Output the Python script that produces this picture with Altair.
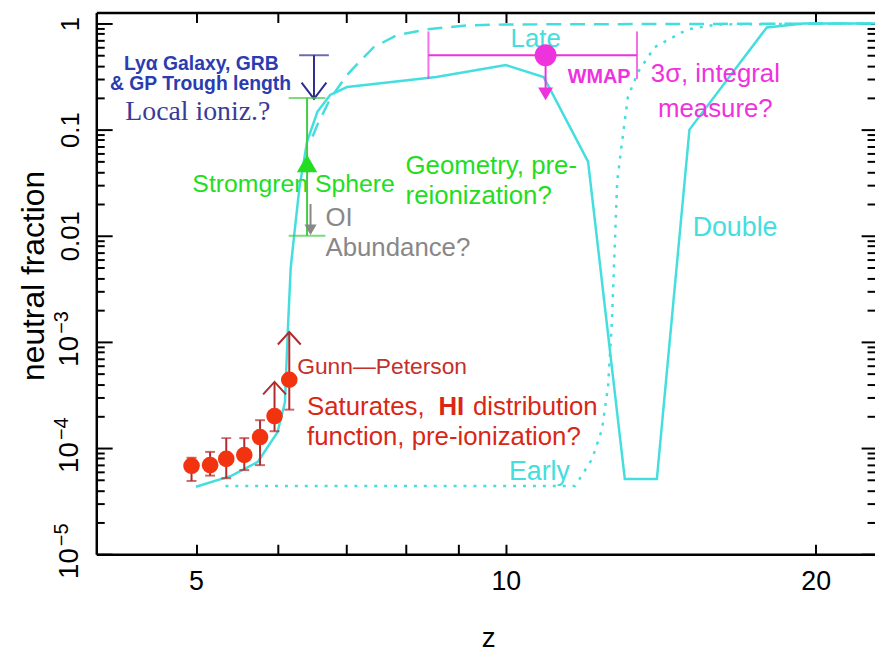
import altair as alt
import pandas as pd

SANS = "Liberation Sans"
SERIF = "Liberation Serif"

CYAN = "#44dede"
RED = "#f2330f"
DARKRED = "#b32a2a"
RED_TEXT = "#d92716"
GP_TEXT = "#c4302a"
NAVY_LINE = "#2c2c8c"
NAVY_TEXT = "#2a3cb0"
SERIF_NAVY = "#3a3a98"
GREEN = "#22dd22"
GREEN_LINE = "#44cc44"
GREY = "#888888"
MAGENTA = "#ee33dd"

# ---------------- data ----------------
# "Double" reionization history (solid)
double_z = [5.00, 5.41, 5.74, 6.00, 6.10, 6.14, 6.18, 6.23, 6.30, 6.41, 6.56, 6.75, 7.01,
            8.56, 10.0, 10.88, 11.05, 12.02, 13.05, 14.02, 15.08, 17.93, 19.47, 22.84]
double_f = [4.32e-5, 5.47e-5, 7.4e-5, 1.41e-4, 2.69e-4, 1.29e-3, 5.0e-3, 1.04e-2, 2.8e-2,
            7.7e-2, 0.147, 0.212, 0.252, 0.313, 0.405, 0.313, 0.237, 0.050, 5.1e-5, 5.1e-5,
            0.10, 0.918, 1.0, 1.0]
# "Late" (dashed)
late_z = [6.49, 6.56, 6.75, 7.01, 7.17, 7.44, 7.83, 8.37, 9.15, 10.0, 22.84]
late_f = [0.086, 0.111, 0.195, 0.327, 0.414, 0.597, 0.773, 0.879, 0.958, 0.979, 1.0]
# "Early" (dotted)
early_z = [5.34, 11.68, 12.13, 12.40, 12.57, 12.68, 12.83, 12.97, 13.14, 13.44, 13.95,
           15.01, 16.05, 22.84]
early_f = [4.4e-5, 4.4e-5, 7.9e-5, 1.5e-4, 3.8e-4, 1.6e-3, 0.0327, 0.077, 0.203, 0.348,
           0.597, 0.879, 0.979, 1.0]

# Gunn-Peterson measurements
gp_z = [4.95, 5.16, 5.35, 5.57, 5.77, 5.96, 6.16]
gp_f = [6.8e-5, 6.9e-5, 7.9e-5, 8.6e-5, 1.27e-4, 2.0e-4, 4.4e-4]
gp_lo = [4.9e-5, 5.5e-5, 5.2e-5, 6.2e-5, 6.9e-5, 1.44e-4, 2.3e-4]
gp_hi = [8.1e-5, 9.2e-5, 1.24e-4, 1.24e-4, 1.83e-4, 4.2e-4, 1.24e-3]
gp_limit = [False, False, False, False, False, True, True]

# Lya galaxy / GRB / GP trough upper limit
lya_z = [6.51]
lya_top = [0.502]
lya_tip = [0.195]
# Stromgren sphere range
str_z = [6.41]
str_top = [0.199]
str_bot = [0.0100]
str_mid = [0.048]
# OI abundance upper limit
oi_z = [6.46]
oi_top = [0.0199]
oi_tip = [0.0114]
# WMAP
wmap_z = [10.93]
wmap_zlo = [8.41]
wmap_zhi = [13.41]
wmap_f = [0.502]
wmap_tip = [0.217]

# axis ticks / labels
xtick_values = [5, 6, 7, 8, 9, 10, 20]
xlabel_values = [5, 10, 20]
ytick_values = [1e-5, 1e-4, 1e-3, 0.01, 0.1, 1]
ydec_values = [0.01, 0.1, 1]
ydec_labels = ["0.01", "0.1", "1"]
ypow_values = [1e-5, 1e-4, 1e-3]
ypow_base = "10"
ypow_exps = ["−5", "−4", "−3"]
yminor_values = [k * 10.0 ** e for e in range(-5, 0) for k in range(2, 10)]

# annotation text: (text, z, f, color, size, align, weight, font)
annotations = [
    ("Lyα Galaxy, GRB", 5.06, 0.414, NAVY_TEXT, 19.5, "center", "bold", SANS),
    ("& GP Trough length", 5.05, 0.269, NAVY_TEXT, 19.5, "center", "bold", SANS),
    ("Local ioniz.?", 5.02, 0.147, SERIF_NAVY, 28, "center", "normal", SERIF),
    ("Stromgren Sphere", 6.22, 0.0306, GREEN, 25, "center", "normal", SANS),
    ("Geometry, pre-", 7.99, 0.0451, GREEN, 26, "left", "normal", SANS),
    ("reionization?", 7.99, 0.0237, GREEN, 26, "left", "normal", SANS),
    ("OI", 6.68, 0.0147, GREY, 26, "left", "normal", SANS),
    ("Abundance?", 6.68, 0.00772, GREY, 26, "left", "normal", SANS),
    ("Gunn—Peterson", 6.27, 5.84e-4, GP_TEXT, 23, "left", "normal", SANS),
    ("Saturates,", 6.41, 2.42e-4, RED_TEXT, 26, "left", "normal", SANS),
    ("HI", 8.60, 2.42e-4, RED_TEXT, 26, "left", "bold", SANS),
    ("distribution", 9.29, 2.42e-4, RED_TEXT, 26, "left", "normal", SANS),
    ("function, pre-ionization?", 6.41, 1.27e-4, RED_TEXT, 26, "left", "normal", SANS),
    ("Late", 10.69, 0.709, CYAN, 26, "center", "normal", SANS),
    ("Early", 10.78, 5.97e-5, CYAN, 27, "center", "normal", SANS),
    ("Double", 16.70, 0.01188, CYAN, 27, "center", "normal", SANS),
    ("WMAP", 12.32, 0.313, MAGENTA, 20, "center", "bold", SANS),
    ("3σ, integral", 15.98, 0.334, MAGENTA, 26, "center", "normal", SANS),
    ("measure?", 15.98, 0.157, MAGENTA, 26, "center", "normal", SANS),
]

# ---------------- scales & axes ----------------
xs = alt.Scale(type="log", domain=[4.0, 22.84], nice=False)
ys = alt.Scale(type="log", domain=[1e-5, 1.267], nice=False)


def X(field="z", axis=None):
    return alt.X(field, type="quantitative", scale=xs, axis=axis)


def Y(field="f", axis=None):
    return alt.Y(field, type="quantitative", scale=ys, axis=axis)


def tick_axis(orient, values, size):
    return alt.Axis(orient=orient, values=values, ticks=True, tickSize=size, offset=-size,
                    tickWidth=2, tickColor="black", labels=False, domain=False,
                    grid=False, title="")


def js_list(items):
    return "[" + ",".join("'" + s + "'" for s in items) + "]"


x_main = alt.Axis(orient="bottom", values=xlabel_values, format="d", ticks=False,
                  domain=True, domainColor="black", domainWidth=2.5, grid=False,
                  labelFont=SANS, labelFontSize=27, labelColor="black", labelPadding=15,
                  labelBaseline="top", title="z", titleFont=SANS, titleFontSize=28,
                  titleFontWeight="normal", titleColor="black", titleX=395, titleY=93,
                  titleBaseline="alphabetic", titleAlign="center")
y_main = alt.Axis(orient="left", values=ydec_values,
                  labelExpr=js_list(ydec_labels) + "[round(log(datum.value)/LN10) + 2]",
                  ticks=False, domain=True, domainColor="black", domainWidth=2.5,
                  grid=False, labelAngle=270, labelAlign="center", labelBaseline="bottom",
                  labelPadding=13, labelFont=SANS, labelFontSize=26, labelColor="black",
                  title="neutral fraction", titleFont=SANS, titleFontSize=32,
                  titleFontWeight="normal", titleColor="black", titleAngle=270,
                  titleX=-63, titleY=265, titleBaseline="middle", titleAlign="center")
y_base = alt.Axis(orient="left", values=ypow_values, ticks=False, domain=False, grid=False,
                  labelExpr="'" + ypow_base + "'", labelAngle=270, labelAlign="center",
                  labelBaseline="bottom", labelPadding=13, labelOffset=9, labelFont=SANS,
                  labelFontSize=28, labelColor="black", title="")
y_exp = alt.Axis(orient="left", values=ypow_values, ticks=False, domain=False, grid=False,
                 labelExpr=js_list(ypow_exps) + "[round(log(datum.value)/LN10) + 5]",
                 labelAngle=270, labelAlign="center", labelBaseline="bottom",
                 labelPadding=25, labelOffset=-20, labelFont=SANS, labelFontSize=20,
                 labelColor="black", title="")
top_domain = alt.Axis(orient="top", ticks=False, labels=False, domain=True,
                      domainColor="black", domainWidth=2.5, grid=False, title="")

x_axes = [x_main, tick_axis("bottom", xtick_values, 10), tick_axis("top", xtick_values, 10),
          top_domain]
y_axes = [y_main, y_base, y_exp, tick_axis("left", ytick_values, 16),
          tick_axis("left", yminor_values, 8), tick_axis("right", ytick_values, 14),
          tick_axis("right", yminor_values, 8)]

# ---------------- layers ----------------
df_double = pd.DataFrame({"z": double_z, "f": double_f})
df_late = pd.DataFrame({"z": late_z, "f": late_f})
df_early = pd.DataFrame({"z": early_z, "f": early_f})
df_gp = pd.DataFrame({"z": gp_z, "f": gp_f, "lo": gp_lo, "hi": gp_hi, "limit": gp_limit})

layers = []


def add(base, yfield="f", xfield="z", **enc):
    i = len(layers)
    xa = x_axes[i] if i < len(x_axes) else None
    ya = y_axes[i] if i < len(y_axes) else None
    layers.append(base.encode(x=X(xfield, axis=xa), y=Y(yfield, axis=ya), **enc))


add(alt.Chart(df_double).mark_line(color=CYAN, strokeWidth=2.5))
add(alt.Chart(df_late).mark_line(color=CYAN, strokeWidth=2.5, strokeDash=[15, 9]))
add(alt.Chart(df_early).mark_line(color=CYAN, strokeWidth=2.5, strokeDash=[3, 7]))

# text annotations
for (t, z, f, col, size, align, weight, font) in annotations:
    add(alt.Chart(pd.DataFrame({"z": [z], "f": [f], "t": [t]})).mark_text(
        align=align, baseline="middle", font=font, fontSize=size, fontWeight=weight,
        color=col), text="t:N")

# Gunn-Peterson error bars
add(alt.Chart(df_gp).mark_rule(color=DARKRED, strokeWidth=2), "lo", y2=alt.Y2("hi"))
add(alt.Chart(df_gp).mark_tick(orient="horizontal", size=10, thickness=2, color=DARKRED), "lo")
add(alt.Chart(df_gp).transform_filter("!datum.limit").mark_tick(
    orient="horizontal", size=10, thickness=2, color=DARKRED), "hi")
add(alt.Chart(df_gp).transform_filter("datum.limit").mark_point(
    shape="M-1,1.1L0,0L1,1.1", filled=False, size=529, strokeWidth=2, color=DARKRED,
    opacity=1), "hi")
add(alt.Chart(df_gp).mark_circle(size=280, color=RED, opacity=1), "f")

# Lya galaxy / GRB upper limit
df_lya = pd.DataFrame({"z": lya_z, "top": lya_top, "tip": lya_tip})
add(alt.Chart(df_lya).mark_rule(color=NAVY_LINE, strokeWidth=2), "top", y2=alt.Y2("tip"))
add(alt.Chart(df_lya).mark_tick(orient="horizontal", size=30, thickness=2, color=NAVY_LINE), "top")
add(alt.Chart(df_lya).mark_point(shape="M-1,-1.3L0,0L1,-1.3", filled=False, size=625,
                                 strokeWidth=2, color=NAVY_LINE, opacity=1), "tip")

# Stromgren sphere
df_str = pd.DataFrame({"z": str_z, "top": str_top, "bot": str_bot, "mid": str_mid})
add(alt.Chart(df_str).mark_rule(color=GREEN_LINE, strokeWidth=2), "top", y2=alt.Y2("bot"))
add(alt.Chart(df_str).mark_tick(orient="horizontal", size=37, thickness=2, color=GREEN_LINE), "top")
add(alt.Chart(df_str).mark_tick(orient="horizontal", size=37, thickness=2, color=GREEN_LINE), "bot")
add(alt.Chart(df_str).mark_point(shape="triangle-up", filled=True, size=420, color=GREEN,
                                 opacity=1), "mid")

# OI abundance
df_oi = pd.DataFrame({"z": oi_z, "top": oi_top, "tip": oi_tip})
add(alt.Chart(df_oi).mark_rule(color=GREY, strokeWidth=2), "top", y2=alt.Y2("tip"))
add(alt.Chart(df_oi).mark_point(shape="triangle-down", filled=True, size=150, color=GREY,
                                opacity=1), "tip")

# WMAP
df_wmap = pd.DataFrame({"z": wmap_z, "zlo": wmap_zlo, "zhi": wmap_zhi, "f": wmap_f,
                        "tip": wmap_tip})
add(alt.Chart(df_wmap).mark_rule(color=MAGENTA, strokeWidth=2), "f", "zlo", x2=alt.X2("zhi"))
add(alt.Chart(df_wmap).mark_tick(orient="vertical", size=48, thickness=2, color=MAGENTA),
    "f", "zlo")
add(alt.Chart(df_wmap).mark_tick(orient="vertical", size=48, thickness=2, color=MAGENTA),
    "f", "zhi")
add(alt.Chart(df_wmap).mark_rule(color=MAGENTA, strokeWidth=2), "f", y2=alt.Y2("tip"))
add(alt.Chart(df_wmap).mark_point(shape="triangle-down", filled=True, size=225, color=MAGENTA,
                                  opacity=1), "tip")
add(alt.Chart(df_wmap).mark_circle(size=484, color=MAGENTA, opacity=1), "f")

chart = alt.layer(*layers).resolve_axis(x="independent", y="independent").properties(
    width=785, height=546,
    autosize=alt.AutoSizeParams(type="none"),
    padding={"left": 89, "top": 2, "right": 0, "bottom": 96},
    background="white",
).configure_view(strokeWidth=0)

chart.save("out.html", embed_options={"renderer": "svg", "actions": False})
